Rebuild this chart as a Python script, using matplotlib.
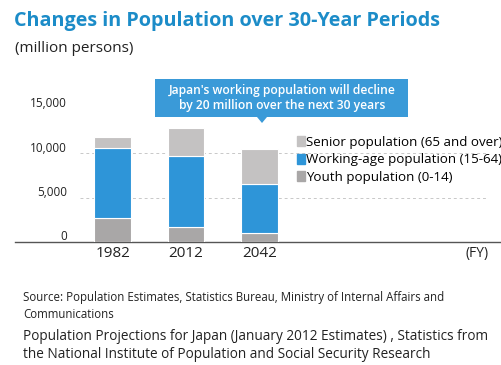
import numpy as np
import matplotlib
matplotlib.use('Agg')
import matplotlib.pyplot as plt
from matplotlib.patches import Patch, FancyBboxPatch, Polygon
import matplotlib.transforms as mtransforms

years = ['1982', '2012', '2042']
youth = [2700, 1700, 1000]
working = [7900, 7950, 5500]
senior = [1150, 3150, 3950]
yticks = [0, 5000, 10000, 15000]

blue = '#2e95d8'
senior_c = '#c4c2c2'
youth_c = '#a9a7a7'
title_c = '#1c8cc8'

plt.rcParams['font.family'] = ['Open Sans', 'DejaVu Sans']

fig = plt.figure(figsize=(5.01, 3.65), dpi=100)
W, H = 501, 365
# axes: left edge at 15px, baseline at 242px, 15,000 at 108.5px
ax = fig.add_axes([15 / W, (H - 242) / H, 1 - 15 / W, 133.5 / H])

x = np.arange(len(years))
bw = 0.5
ax.bar(x, youth, bw, color=youth_c, edgecolor='white', linewidth=0.8, zorder=3)
ax.bar(x, working, bw, bottom=youth, color=blue, edgecolor='white', linewidth=0.8, zorder=3)
bottom2 = np.array(youth) + np.array(working)
ax.bar(x, senior, bw, bottom=bottom2, color=senior_c, edgecolor='white', linewidth=0.8, zorder=3)

ax.set_xlim(-1.33, 5.29)
ax.set_ylim(0, 15000)

# grid
for v in yticks[1:3]:
    ax.hlines(v, -0.45, 5.1, colors='#c8c8c8', linestyles=(0, (3, 3)), linewidth=0.7, zorder=1)

# y labels (sit a little above the grid lines)
off = mtransforms.ScaledTranslation(0, 5 / 100, fig.dpi_scale_trans)
for v in yticks:
    ax.text(-0.62, v, f'{v:,}', ha='right', va='center', fontsize=8.5,
            color='#222222', transform=ax.transData + off)

ax.set_xticks(x)
ax.set_xticklabels(years, fontsize=11, color='#222222')
ax.tick_params(axis='x', length=0, pad=3)
ax.set_yticks([])
for s in ['top', 'right', 'left']:
    ax.spines[s].set_visible(False)
ax.spines['bottom'].set_color('#555555')
ax.spines['bottom'].set_linewidth(1.0)

ax.text(4.8, 0, '(FY)', ha='left', va='top', fontsize=10, color='#222222',
        transform=ax.transData + mtransforms.ScaledTranslation(0, -4 / 100, fig.dpi_scale_trans))

# legend runs off the right edge, as in the original
handles = [Patch(color=senior_c, label='Senior population (65 and over)'),
           Patch(color=blue, label='Working-age population (15-64)'),
           Patch(color=youth_c, label='Youth population (0-14)')]
ax.legend(handles=handles, loc='upper left', bbox_to_anchor=(297 / W, (H - 136) / H),
          bbox_transform=fig.transFigure, frameon=False, fontsize=9.6,
          handlelength=0.6, handleheight=0.8, handletextpad=0.1, labelspacing=0.33,
          borderpad=0, borderaxespad=0)

# callout box
box = FancyBboxPatch((155 / W, (H - 117) / H), 253 / W, 38 / H,
                     boxstyle='square,pad=0', transform=fig.transFigure,
                     facecolor='#3a9ad8', edgecolor='none')
fig.patches.append(box)
tri = Polygon([[257 / W, (H - 117) / H], [267 / W, (H - 117) / H], [262 / W, (H - 123) / H]],
              closed=True, transform=fig.transFigure, facecolor='#3a9ad8', edgecolor='none')
fig.patches.append(tri)
fig.text(282 / W, (H - 98) / H, "Japan's working population will decline\nby 20 million over the next 30 years",
         ha='center', va='center', fontsize=8.7, color='white', fontweight='semibold', linespacing=1.15)

fig.text(14 / W, (H - 21) / H, 'Changes in Population over 30-Year Periods',
         fontsize=14.2, fontweight='bold', color=title_c, ha='left', va='center')
fig.text(15 / W, (H - 48) / H, '(million persons)', fontsize=11, color='#222222',
         ha='left', va='center')

fig.text(23 / W, (H - 298) / H, 'Source: Population Estimates, Statistics Bureau, Ministry of Internal Affairs and',
         fontsize=8.3, color='#222222', ha='left', va='center')
fig.text(23 / W, (H - 315) / H, 'Communications', fontsize=8.3, color='#222222', ha='left', va='center')
fig.text(23 / W, (H - 336) / H, 'Population Projections for Japan (January 2012 Estimates) , Statistics from',
         fontsize=9.8, color='#222222', ha='left', va='center')
fig.text(23 / W, (H - 355) / H, 'the National Institute of Population and Social Security Research',
         fontsize=9.8, color='#222222', ha='left', va='center')

fig.savefig('out.png', dpi=100)
